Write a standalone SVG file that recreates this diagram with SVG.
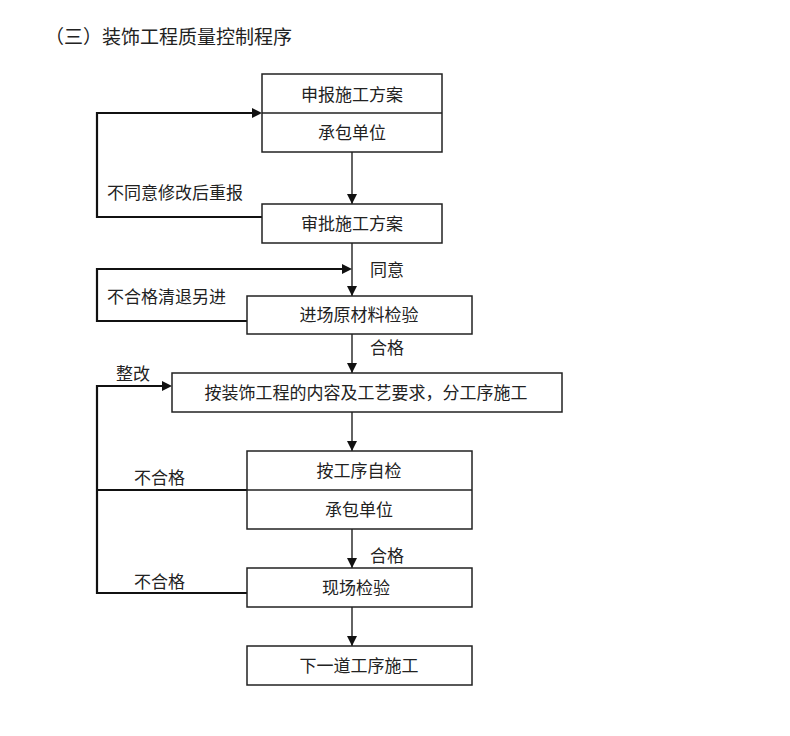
<svg xmlns="http://www.w3.org/2000/svg" width="790" height="736" viewBox="0 0 790 736">
<style>
text{font-family:"Liberation Serif","Noto Sans CJK SC",serif;fill:#222;font-size:17px}
.c{text-anchor:middle}
.box{fill:#fff;stroke:#222;stroke-width:1.5}
.div{stroke:#222;stroke-width:1.5}
.flow{fill:none;stroke:#222;stroke-width:1.4}
.loop{fill:none;stroke:#111;stroke-width:2.2}
</style>
<defs>
<marker id="ah" viewBox="0 0 10 10" refX="10" refY="5" markerWidth="10" markerHeight="10" markerUnits="userSpaceOnUse" orient="auto">
<path d="M0,0 L10,5 L0,10 z" fill="#111"/>
</marker>
</defs>
<rect width="790" height="736" fill="#fff"/>
<text x="45" y="44" style="font-size:19px">（三）装饰工程质量控制程序</text>

<g id="connectors">
<line class="flow" x1="352" y1="152" x2="352" y2="204" marker-end="url(#ah)"/>
<polyline class="loop" points="262,217 97,217 97,113 252,113"/>
<path d="M252,108 L262,113 L252,118 z" fill="#111"/>
<line class="flow" x1="352" y1="243" x2="352" y2="296" marker-end="url(#ah)"/>
<polyline class="loop" points="247,321 97,321 97,269 342,269"/>
<path d="M342,264 L352,269 L342,274 z" fill="#111"/>
<line class="flow" x1="352" y1="334" x2="352" y2="373" marker-end="url(#ah)"/>
<polyline class="loop" points="247,593 97,593 97,386 162,386"/>
<path d="M162,381 L172,386 L162,391 z" fill="#111"/>
<line class="loop" x1="97" y1="490" x2="247" y2="490"/>
<line class="flow" x1="352" y1="412" x2="352" y2="451" marker-end="url(#ah)"/>
<line class="flow" x1="352" y1="529" x2="352" y2="568" marker-end="url(#ah)"/>
<line class="flow" x1="352" y1="607" x2="352" y2="646" marker-end="url(#ah)"/>
<text x="107" y="199">不同意修改后重报</text>
<text x="370" y="276">同意</text>
<text x="107" y="303">不合格清退另进</text>
<text x="370" y="354">合格</text>
<text x="116" y="380">整改</text>
<text x="134" y="484">不合格</text>
<text x="370" y="562">合格</text>
<text x="134" y="588">不合格</text>
</g>

<g id="node-submit">
<rect class="box" x="262" y="74" width="180" height="78"/>
<line class="div" x1="262" y1="113" x2="442" y2="113"/>
<text class="c" x="352" y="101">申报施工方案</text>
<text class="c" x="352" y="139">承包单位</text>
</g>
<g id="node-approve">
<rect class="box" x="262" y="204" width="180" height="39"/>
<text class="c" x="352" y="230">审批施工方案</text>
</g>
<g id="node-material">
<rect class="box" x="247" y="296" width="225" height="38"/>
<text class="c" x="359" y="321">进场原材料检验</text>
</g>
<g id="node-construct">
<rect class="box" x="172" y="373" width="390" height="39"/>
<text class="c" x="366" y="399">按装饰工程的内容及工艺要求，分工序施工</text>
</g>
<g id="node-selfcheck">
<rect class="box" x="247" y="451" width="225" height="78"/>
<line class="div" x1="247" y1="490" x2="472" y2="490"/>
<text class="c" x="359" y="477">按工序自检</text>
<text class="c" x="359" y="516">承包单位</text>
</g>
<g id="node-sitecheck">
<rect class="box" x="247" y="568" width="225" height="39"/>
<text class="c" x="356" y="594">现场检验</text>
</g>
<g id="node-next">
<rect class="box" x="247" y="646" width="225" height="39"/>
<text class="c" x="359" y="672">下一道工序施工</text>
</g>
</svg>
